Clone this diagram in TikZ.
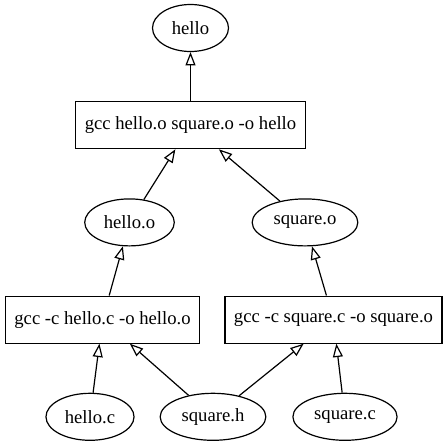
\documentclass[tikz,border=0pt]{standalone}
\usepackage{fontspec}
\setmainfont{Liberation Serif}
\usepackage{tikz}
\usetikzlibrary{shapes.geometric, arrows.meta, positioning}

\begin{document}
\begin{tikzpicture}[
	node distance = 36.75pt,
	font = \fontsize{14}{16}\selectfont,
	cmd/.style = {rectangle, draw, text centered, inner xsep=6.75pt, minimum height=35.25pt, line width=0.9pt},
	file/.style = {ellipse, draw, text centered, inner xsep=4.5pt, minimum width=57pt, minimum height=35.25pt, line width=0.9pt},
	line/.style = {draw, line width=0.9pt, -{Triangle[open, length=10pt, width=7.5pt]}}
	]
	\useasboundingbox (-142.875pt,21pt) rectangle (192.375pt,-311.25pt);
	
	% Nodes
	\node [file] (hello) {hello};
	\node [cmd, below=of hello] (link) {gcc hello.o square.o -o hello};
	
	% Object files
	\node [file, below=of link, xshift=-45.75pt] (helloo) {hello.o};
	\node [file, below=of link, xshift=85.875pt] (squareo) {square.o};
	
	% Compile steps
	\node [cmd, below=of helloo, xshift=-20.25pt] (cchello) {gcc -c hello.c -o hello.o};
	\node [cmd, below=of squareo, xshift=21.375pt] (ccsquare) {gcc -c square.c -o square.o};
	
	% Sources
	\node [file, below=of cchello, xshift=-9.375pt] (helloc) {hello.c};
	\node [file, below=of cchello, xshift=82.875pt] (squareh) {square.h};
	\node [file, below=of ccsquare, xshift=8.625pt] (squarec) {square.c};
	
	% Lines
	\path [line] (link) -- (hello);
	\path [line] (helloo) -- (link);
	\path [line] (squareo) -- (link);
	\path [line] (cchello) -- (helloo);
	\path [line] (ccsquare) -- (squareo);
	\path [line] (helloc) -- (cchello);
	\path [line] (squareh) -- (cchello);
	\path [line] (squareh) -- (ccsquare);
	\path [line] (squarec) -- (ccsquare);
\end{tikzpicture}
\end{document}
